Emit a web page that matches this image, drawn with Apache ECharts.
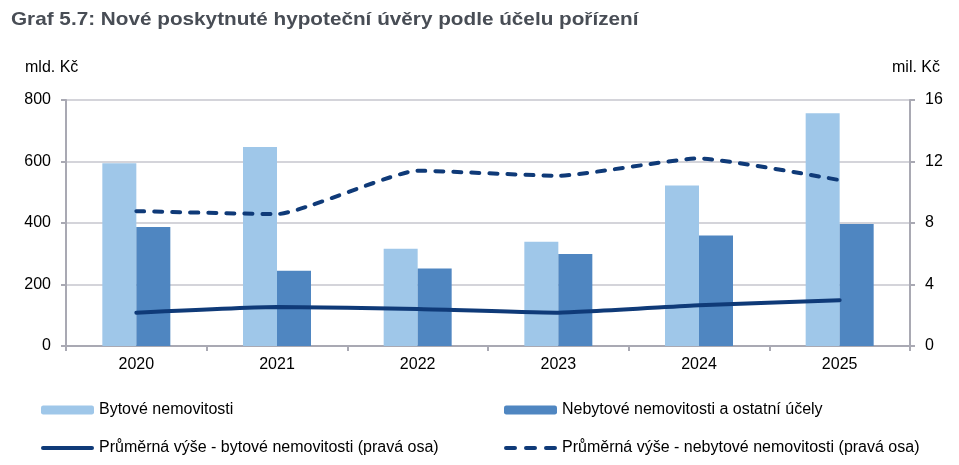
<!DOCTYPE html>
<html>
<head>
<meta charset="utf-8">
<script src="https://cdn.jsdelivr.net/npm/echarts@6/dist/echarts.min.js"></script>
<style>
  html, body { margin: 0; padding: 0; background: #fff; }
  #chart { width: 959px; height: 465px; }
</style>
</head>
<body>
<div id="chart"></div>
<script>
// data
const years = ['2020', '2021', '2022', '2023', '2024', '2025'];
const bytove = [594, 647, 316, 339, 522, 757];          // mld. Kč
const nebytove = [387, 245, 252, 299, 359, 397];        // mld. Kč
const prumerBytove = [2.17, 2.54, 2.41, 2.17, 2.65, 2.98];     // mil. Kč
const prumerNebytove = [8.77, 8.58, 11.4, 11.07, 12.2, 10.79]; // mil. Kč

const names = [
  'Bytové nemovitosti',
  'Nebytové nemovitosti a ostatní účely',
  'Průměrná výše - bytové nemovitosti (pravá osa)',
  'Průměrná výše - nebytové nemovitosti (pravá osa)'
];

const font = 'Liberation Sans, Arial, sans-serif';
const axisGray = '#a9a9b3';
const gridGray = '#c6c6ce';
const navy = '#0f3a78';

// legend icons for the two lines (solid pill, three rounded dashes)
const solidIcon = 'path://M2,0h49a2,2 0 0 1 0,4h-49a2,2 0 0 1 0,-4z';
const dashIcon = 'path://M2,0h9a2,2 0 0 1 0,4h-9a2,2 0 0 1 0,-4z' +
  'M22,0h9a2,2 0 0 1 0,4h-9a2,2 0 0 1 0,-4z' +
  'M42,0h9a2,2 0 0 1 0,4h-9a2,2 0 0 1 0,-4z';

let legendAt = (name, left, top, w, h, icon) => {
  let item = icon ? { name: name, icon: icon } : { name: name };
  return {
    data: [item], left: left, top: top,
    itemWidth: w, itemHeight: h, itemGap: 5,
    textStyle: { fontFamily: font, fontSize: 16, color: '#000' }
  };
};

const chart = echarts.init(document.getElementById('chart'));

let options = {
  animation: false,
  backgroundColor: '#fff',
  graphic: [
    {
      type: 'text', x: 11, y: 10, scaleX: 1.12,
      style: {
        text: 'Graf 5.7: Nové poskytnuté hypoteční úvěry podle účelu pořízení',
        font: 'bold 18.5px ' + font, fill: '#484d55', verticalAlign: 'top'
      }
    },
    { type: 'text', x: 25, y: 60, style: { text: 'mld. Kč', font: '16px ' + font, fill: '#000', verticalAlign: 'top' } },
    { type: 'text', x: 892, y: 60, style: { text: 'mil. Kč', font: '16px ' + font, fill: '#000', verticalAlign: 'top' } }
  ],
  legend: [
    legendAt(names[0], 36, 397, 53, 9),
    legendAt(names[1], 499, 397, 53, 9),
    legendAt(names[2], 36, 435, 53, 5, solidIcon),
    legendAt(names[3], 499, 435, 53, 5, dashIcon)
  ],
  grid: { left: 66, right: 49, top: 100, bottom: 119 },
  xAxis: {
    type: 'category',
    data: years,
    axisLine: { lineStyle: { color: axisGray, width: 2 } },
    axisTick: { show: true, length: 5, lineStyle: { color: axisGray, width: 2 } },
    axisLabel: { fontFamily: font, fontSize: 16, color: '#000', margin: 11 }
  },
  yAxis: [
    {
      type: 'value', min: 0, max: 800, interval: 200,
      axisLine: { show: true, lineStyle: { color: axisGray, width: 2 } },
      axisTick: { show: true, length: 5, lineStyle: { color: axisGray, width: 2 } },
      axisLabel: { fontFamily: font, fontSize: 16, color: '#000', margin: 15 },
      splitLine: { lineStyle: { color: gridGray, width: 1.5 } }
    },
    {
      type: 'value', min: 0, max: 16, interval: 4,
      axisLine: { show: true, lineStyle: { color: axisGray, width: 2 } },
      axisTick: { show: true, length: 5, lineStyle: { color: axisGray, width: 2 } },
      axisLabel: { fontFamily: font, fontSize: 16, color: '#000', margin: 15 },
      splitLine: { show: false }
    }
  ],
  series: [
    {
      name: names[0], type: 'bar', data: bytove,
      barWidth: 34, barGap: '0%',
      itemStyle: { color: '#9fc7e9' }
    },
    {
      name: names[1], type: 'bar', data: nebytove,
      barWidth: 34,
      itemStyle: { color: '#4f86c1' }
    },
    {
      name: names[2], type: 'line', yAxisIndex: 1, data: prumerBytove,
      smooth: 0.15, symbol: 'none',
      lineStyle: { color: navy, width: 4, cap: 'round' },
      itemStyle: { color: navy }
    },
    {
      name: names[3], type: 'line', yAxisIndex: 1, data: prumerNebytove,
      smooth: 0.15, symbol: 'none',
      lineStyle: { color: navy, width: 4, type: [8, 10], cap: 'round' },
      itemStyle: { color: navy }
    }
  ]
};

chart.setOption(options);
</script>
</body>
</html>
